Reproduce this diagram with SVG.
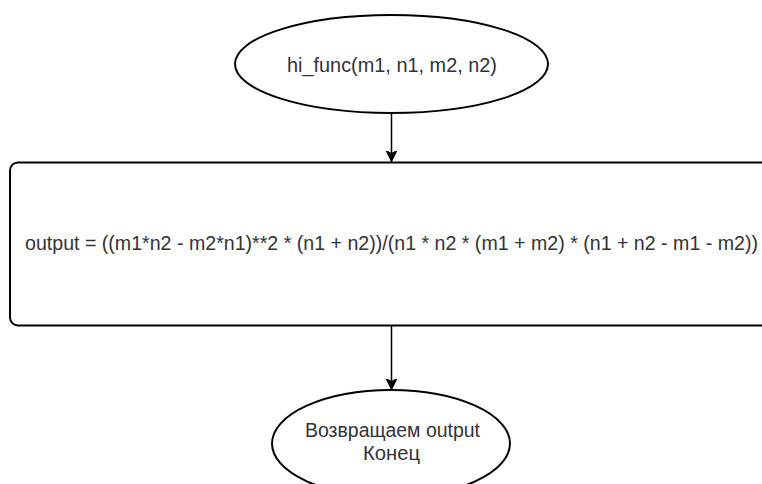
<svg xmlns="http://www.w3.org/2000/svg" width="762" height="484" viewBox="0 0 762 484">
  <style>
    .shape { fill: #ffffff; stroke: #000000; stroke-width: 2; }
    .lbl { font-family: "Liberation Sans", Arial, sans-serif; font-size: 19.5px; fill: #333333; text-anchor: middle; }
    .edge { fill: none; stroke: #000000; stroke-width: 1.5; }
  </style>
  <defs>
    <marker id="arrow" viewBox="0 0 12 12" refX="11" refY="6" markerWidth="12" markerHeight="12" markerUnits="userSpaceOnUse" orient="auto">
      <path d="M0,0.5 L11,6 L0,11.5 L3,6 Z" fill="#000000" stroke="#000000" stroke-width="1"/>
    </marker>
  </defs>
  <rect width="762" height="484" fill="#ffffff"/>
  <g id="connectors">
    <path class="edge" d="M391.5,113 L391.5,161.5" marker-end="url(#arrow)"/>
    <path class="edge" d="M391.5,326 L391.5,389.5" marker-end="url(#arrow)"/>
  </g>
  <g id="start">
    <ellipse class="shape" cx="391.5" cy="64" rx="156.5" ry="49"/>
    <text class="lbl" x="392" y="72" textLength="210" lengthAdjust="spacingAndGlyphs">hi_func(m1, n1, m2, n2)</text>
  </g>
  <g id="process">
    <rect class="shape" x="10" y="162.5" width="764" height="163" rx="8" ry="8"/>
    <text class="lbl" x="391.5" y="250" textLength="733" lengthAdjust="spacingAndGlyphs">output = ((m1*n2 - m2*n1)**2 * (n1 + n2))/(n1 * n2 * (m1 + m2) * (n1 + n2 - m1 - m2))</text>
  </g>
  <g id="end">
    <ellipse class="shape" cx="391" cy="443.5" rx="119" ry="53.5"/>
    <text class="lbl" x="392.5" y="437" textLength="175" lengthAdjust="spacingAndGlyphs">Возвращаем output</text>
    <text class="lbl" x="391.5" y="460" textLength="57" lengthAdjust="spacingAndGlyphs">Конец</text>
  </g>
</svg>
